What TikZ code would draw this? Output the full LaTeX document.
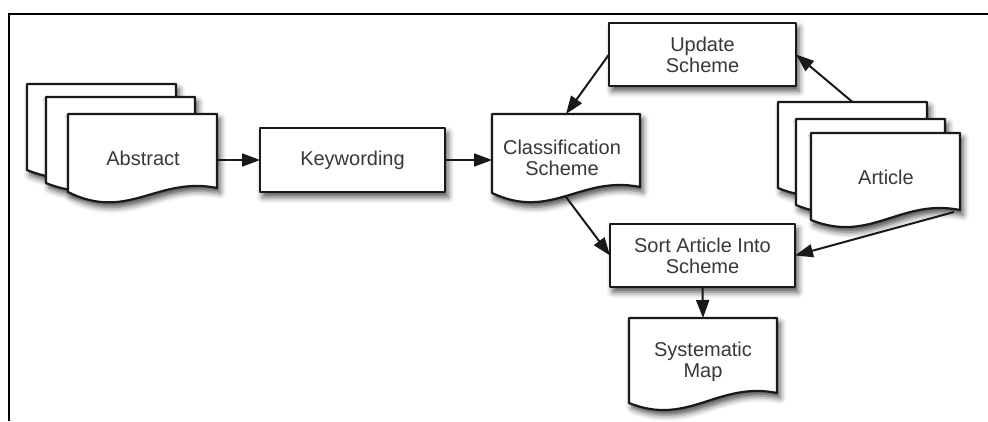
\documentclass[tikz,border=0pt]{standalone}
\usepackage{fontspec}
\setmainfont{Liberation Sans}
\usetikzlibrary{shadows.blur,arrows.meta,calc}

\tikzset{
  sheet/.style={draw=black!90, line width=2.2pt, fill=white, line join=round,
    blur shadow={shadow xshift=3pt, shadow yshift=-5pt, shadow blur radius=6pt,
      shadow opacity=70}},
  docframe/.style={rectangle, inner sep=0pt, outer sep=0pt},
  procbox/.style={sheet, rectangle, inner sep=0pt, outer sep=0pt,
    text=black!78, font=\fontsize{20}{21}\selectfont, align=center},
  caption/.style={text=black!78, font=\fontsize{20}{21}\selectfont, align=center,
    inner sep=0pt},
  arr/.style={draw=black!90, line width=2pt, -{Triangle[length=18pt,width=13pt]}},
  border/.style={draw=black, line width=2.5pt},
}

% Document sheet with a wavy lower edge, drawn over a named frame node.
% #1 = frame node, #2 = how far the lower left corner hangs below the right one
\newcommand{\docsheet}[2]{%
  \path[sheet] let \p1=(#1.north west), \p2=(#1.south east) in
    (\p1) -- (\x2,\y1) -- (\p2)
    .. controls (\x2-0.4*\x2+0.4*\x1, \y2+12pt) and (\x1+0.4*\x2-0.4*\x1, \y2-34pt)
    .. (\x1,\y2-#2pt) -- cycle;}

\begin{document}
\begin{tikzpicture}[x=1pt, y=-1pt]
  \useasboundingbox (0,0) rectangle (988,421);

  % outer frame (top and left rules)
  \draw[border] (9,421) -- (9,14) -- (988,14);

  % frames of the document sheets
  \node[docframe, minimum width=149pt, minimum height=77pt] (abs3) at (101.5,122.5) {};
  \node[docframe, minimum width=149pt, minimum height=77pt] (abs2) at (120.5,135.5) {};
  \node[docframe, minimum width=149pt, minimum height=74pt] (abs1) at (142.5,151) {};
  \node[docframe, minimum width=148pt, minimum height=73pt] (cls) at (566,150.5) {};
  \node[docframe, minimum width=149pt, minimum height=77pt] (art3) at (852.5,140.5) {};
  \node[docframe, minimum width=149pt, minimum height=77pt] (art2) at (870.5,157.5) {};
  \node[docframe, minimum width=149pt, minimum height=77pt] (art1) at (885.5,171.5) {};
  \node[docframe, minimum width=148pt, minimum height=75pt] (map) at (703,355.5) {};

  % abstract stack
  \docsheet{abs3}{9}
  \docsheet{abs2}{9}
  \docsheet{abs1}{4}

  % process boxes
  \node[procbox, minimum width=185pt, minimum height=64pt] (kw) at (352.5,160) {Keywording};
  \docsheet{cls}{6}
  \node[procbox, minimum width=187pt, minimum height=63pt] (upd) at (702.5,54.5)
    {Update\\Scheme};

  % article stack
  \docsheet{art3}{9}
  \docsheet{art2}{9}
  \docsheet{art1}{10}

  \node[procbox, minimum width=185pt, minimum height=63pt] (srt) at (702.5,255.5)
    {Sort Article Into\\Scheme};
  \docsheet{map}{10}

  % sheet captions
  \node[caption] (abs-t) at (143,158) {Abstract};
  \node[caption] (cls-t) at (562,158) {Classification\\Scheme};
  \node[caption] (art-t) at (886,177) {Article};
  \node[caption] (map-t) at (703,362) {Systematic\\Map};

  % connector end points on the wavy edges
  \coordinate (cls-b) at ($(cls.south)+(0,10)$);
  \coordinate (art-b) at ($(art1.south east)+(-6,2)$);

  % connectors
  \draw[arr] (abs1.east |- kw.west) -- (kw.west);
  \draw[arr] (kw.east) -- (cls.west |- kw.east);
  \draw[arr] (upd.west) -- (cls.north);
  \draw[arr] (art3.north) -- (upd.east);
  \draw[arr] (cls-b) -- (srt.west);
  \draw[arr] (art-b) -- (srt.east);
  \draw[arr] (srt.south) -- (map.north);
\end{tikzpicture}
\end{document}
